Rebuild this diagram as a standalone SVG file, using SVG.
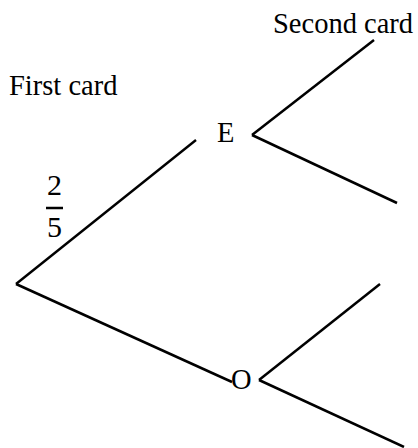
<svg xmlns="http://www.w3.org/2000/svg" width="418" height="448" viewBox="0 0 418 448">
<style>
.t{font-family:"Liberation Serif","Times New Roman",serif;font-size:28.5px;fill:#000}
.m{font-family:"Liberation Serif","Times New Roman",serif;font-size:30px;fill:#000;text-anchor:middle}
.c line{stroke:#000;stroke-width:2.5;stroke-linecap:butt}
</style>
<rect width="418" height="448" fill="#fff"/>
<text class="t" x="9" y="95">First card</text>
<text class="t" x="273" y="33">Second card</text>
<g class="c" id="connectors">
<line x1="16" y1="284" x2="196" y2="140"/>
<line x1="16" y1="284" x2="232" y2="382"/>
<line x1="252" y1="135" x2="374" y2="40"/>
<line x1="252" y1="135" x2="397" y2="203"/>
<line x1="259" y1="380" x2="380" y2="284"/>
<line x1="259" y1="380" x2="404" y2="447"/>
<line x1="46" y1="208" x2="63" y2="208"/>
</g>
<g id="nodeE"><text class="t" x="217" y="142">E</text></g>
<g id="nodeO"><text class="t" x="231" y="389">O</text></g>
<g id="prob"><text class="m" x="54.5" y="195">2</text><text class="m" x="54.5" y="237">5</text></g>
</svg>
